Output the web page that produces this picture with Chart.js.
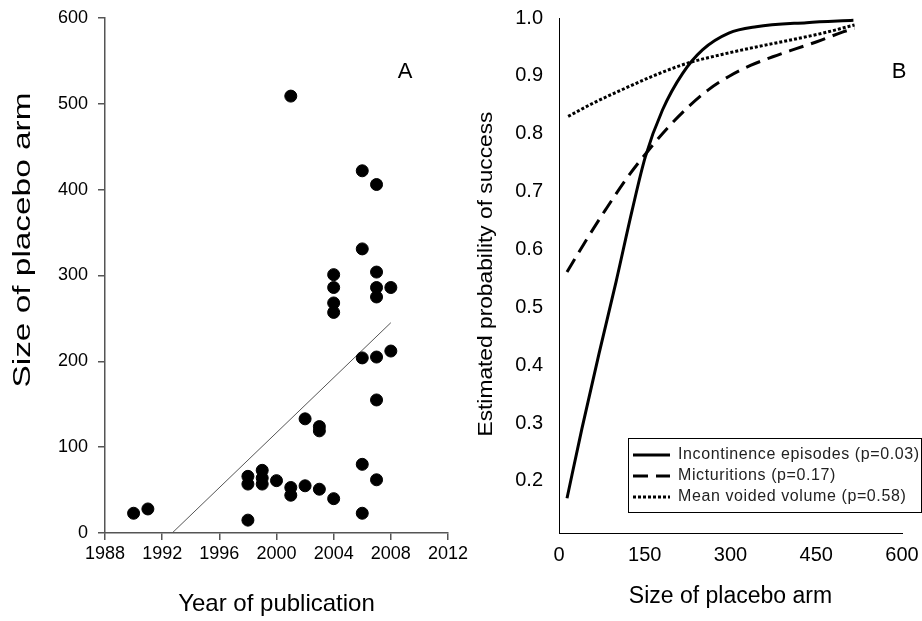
<!DOCTYPE html>
<html>
<head>
<meta charset="utf-8">
<script src="https://cdn.jsdelivr.net/npm/chart.js@4.4.1/dist/chart.umd.min.js"></script>
<style>
  html, body { margin: 0; padding: 0; background: #fff; }
  #wrap { position: relative; width: 922px; height: 621px; overflow: hidden; }
  #chartA { position: absolute; left: 0; top: 0; }
  #chartB { position: absolute; left: 470px; top: 0; }
</style>
</head>
<body>
<div id="wrap">
  <canvas id="chartA" width="470" height="621"></canvas>
  <canvas id="chartB" width="452" height="621"></canvas>
</div>
<script>
// panel A: placebo arm size by year of publication
const studyYears = [1990, 1991, 1998, 1998, 1998, 1999, 1999, 1999, 2000, 2001, 2001, 2001,
    2002, 2002, 2003, 2003, 2003, 2004, 2004, 2004, 2004, 2004, 2006, 2006, 2006, 2006, 2006,
    2007, 2007, 2007, 2007, 2007, 2007, 2007, 2008, 2008];
const placeboSizes = [23, 28, 15, 57, 66, 73, 64, 57, 61, 509, 53, 44,
    133, 55, 124, 119, 51, 301, 286, 268, 257, 40, 422, 331, 204, 80, 23,
    406, 304, 286, 275, 205, 155, 62, 286, 212];
const trendYears = [1992.7, 2008];
const trendSizes = [0, 245];
const yearTicks = [1988, 1992, 1996, 2000, 2004, 2008, 2012];
const sizeTicks = [0, 100, 200, 300, 400, 500, 600];

// panel B: estimated probability of success by size of placebo arm
const seriesNames = ["Incontinence episodes (p=0.03)", "Micturitions (p=0.17)", "Mean voided volume (p=0.58)"];
const incontX = [14, 40, 70, 100, 128, 151, 181, 216, 251, 297, 345, 433, 515];
const incontP = [0.17, 0.29, 0.42, 0.545, 0.668, 0.76, 0.841, 0.904, 0.945, 0.974, 0.985, 0.992, 0.996];
const micturX = [14, 50, 81, 120, 157, 190, 227, 260, 297, 335, 374, 415, 451, 497, 517];
const micturP = [0.561, 0.62, 0.668, 0.725, 0.772, 0.81, 0.847, 0.875, 0.899, 0.918, 0.933, 0.947, 0.959, 0.976, 0.982];
const voidX = [16, 60, 110, 165, 225, 285, 345, 405, 462, 517];
const voidP = [0.83, 0.853, 0.876, 0.9, 0.922, 0.937, 0.95, 0.962, 0.974, 0.988];
const armTicks = [0, 150, 300, 450, 600];
const probTicks = [0.2, 0.3, 0.4, 0.5, 0.6, 0.7, 0.8, 0.9, 1.0];

const FONT = "'Liberation Sans', Arial, sans-serif";

function pairs(xs, ys) {
    return xs.map((x, i) => ({ x: x, y: ys[i] }));
}

function panelLetter(text, dx, dy) {
    return {
        id: "letter" + text,
        afterDraw(chart) {
            const c = chart.ctx;
            c.save();
            c.font = "22px " + FONT;
            c.fillStyle = "#000";
            c.textAlign = "center";
            c.textBaseline = "middle";
            c.fillText(text, chart.chartArea.right + dx, chart.chartArea.top + dy);
            c.restore();
        }
    };
}

// rotated axis title, drawn a bit stretched along its length like the original
function sideTitle(text, cx, cy, size, length) {
    return {
        id: "sideTitle",
        afterDraw(chart) {
            const c = chart.ctx;
            c.save();
            c.translate(cx, cy);
            c.rotate(-Math.PI / 2);
            c.font = size + "px " + FONT;
            const w = c.measureText(text).width;
            c.scale(length / w, 1);
            c.fillStyle = "#000";
            c.textAlign = "center";
            c.textBaseline = "middle";
            c.fillText(text, 0, 0);
            c.restore();
        }
    };
}

// legend box drawn inside panel B
const boxLegend = {
    id: "boxLegend",
    afterDraw(chart) {
        const c = chart.ctx;
        const left = chart.chartArea.left + 69;
        const top = 438;
        const right = chart.width - 1;
        c.save();
        c.strokeStyle = "#000";
        c.lineWidth = 1;
        c.strokeRect(left + 0.5, top + 0.5, right - left, 74);
        c.font = "16px " + FONT;
        c.textBaseline = "middle";
        if ("letterSpacing" in c) c.letterSpacing = "0.6px";
        chart.data.datasets.forEach((ds, i) => {
            const y = 455 + i * 21;
            c.beginPath();
            c.setLineDash(ds.borderDash || []);
            c.lineWidth = ds.borderWidth;
            c.strokeStyle = ds.borderColor;
            c.moveTo(left + 5, y);
            c.lineTo(left + 42, y);
            c.stroke();
            c.setLineDash([]);
            c.fillStyle = "#222";
            c.fillText(ds.label, left + 50, y);
        });
        c.restore();
    }
};

function noPadY(s, w) {
    s.width = w;
    s.paddingTop = 0;
    s.paddingBottom = 0;
}

function noPadX(s, h) {
    s.height = h;
    s.paddingLeft = 0;
    s.paddingRight = 0;
}

new Chart(document.getElementById("chartA"), {
    type: "scatter",
    data: {
        datasets: [
            {
                label: "Studies",
                data: pairs(studyYears, placeboSizes),
                backgroundColor: "#000",
                borderColor: "#000",
                pointRadius: 6,
                pointHoverRadius: 6
            },
            {
                label: "Trend",
                type: "line",
                data: pairs(trendYears, trendSizes),
                borderColor: "#555",
                borderWidth: 1,
                pointRadius: 0,
                fill: false
            }
        ]
    },
    options: {
        responsive: false,
        animation: false,
        layout: { padding: { left: 0, right: 22, top: 18, bottom: 0 } },
        plugins: { legend: { display: false }, tooltip: { enabled: false } },
        scales: {
            x: {
                type: "linear",
                min: 1988,
                max: 2012,
                afterBuildTicks: s => { s.ticks = yearTicks.map(v => ({ value: v })); },
                afterFit: s => noPadX(s, 88),
                ticks: { color: "#000", padding: 3, font: { family: FONT, size: 18 }, callback: v => String(v) },
                grid: { drawOnChartArea: false, drawTicks: true, tickLength: 7, color: "#555", lineWidth: 1.5 },
                border: { color: "#555", width: 1.5 },
                title: { display: true, text: "Year of publication", color: "#000",
                         font: { family: FONT, size: 24 }, padding: { top: 0, bottom: 2 } }
            },
            y: {
                min: 0,
                max: 600,
                afterBuildTicks: s => { s.ticks = sizeTicks.map(v => ({ value: v })); },
                afterFit: s => noPadY(s, 105),
                ticks: { color: "#000", padding: 10, font: { family: FONT, size: 18 } },
                grid: { drawOnChartArea: false, drawTicks: true, tickLength: 7, color: "#555", lineWidth: 1.5 },
                border: { color: "#555", width: 1.5 }
            }
        }
    },
    plugins: [panelLetter("A", -43, 54), sideTitle("Size of placebo arm", 24, 240, 23, 295)]
});

new Chart(document.getElementById("chartB"), {
    type: "line",
    data: {
        datasets: [
            {
                label: seriesNames[0],
                data: pairs(incontX, incontP),
                borderColor: "#000",
                borderWidth: 3
            },
            {
                label: seriesNames[1],
                data: pairs(micturX, micturP),
                borderColor: "#000",
                borderWidth: 3,
                borderDash: [15, 8]
            },
            {
                label: seriesNames[2],
                data: pairs(voidX, voidP),
                borderColor: "#000",
                borderWidth: 3,
                borderDash: [3, 2]
            }
        ]
    },
    options: {
        responsive: false,
        animation: false,
        datasets: { line: { pointRadius: 0, fill: false, cubicInterpolationMode: "monotone" } },
        layout: { padding: { left: 0, right: 20, top: 18, bottom: 0 } },
        plugins: { legend: { display: false }, tooltip: { enabled: false } },
        scales: {
            x: {
                type: "linear",
                min: 0,
                max: 600,
                afterBuildTicks: s => { s.ticks = armTicks.map(v => ({ value: v })); },
                afterFit: s => noPadX(s, 88),
                ticks: { color: "#000", padding: 10, font: { family: FONT, size: 20 } },
                grid: { display: false, drawTicks: false },
                border: { color: "#000", width: 1 },
                title: { display: true, text: "Size of placebo arm", color: "#000",
                         font: { family: FONT, size: 23 }, padding: { top: 0, bottom: 11 } }
            },
            y: {
                min: 0.11,
                max: 1.0,
                afterBuildTicks: s => { s.ticks = probTicks.map(v => ({ value: v })); },
                afterFit: s => noPadY(s, 89),
                ticks: { color: "#000", padding: 16, font: { family: FONT, size: 20 }, callback: v => v.toFixed(1) },
                grid: { display: false, drawTicks: false },
                border: { color: "#000", width: 1 }
            }
        }
    },
    plugins: [boxLegend, panelLetter("B", -3, 54),
              sideTitle("Estimated probability of success", 16, 274, 20, 325)]
});
</script>
</body>
</html>
